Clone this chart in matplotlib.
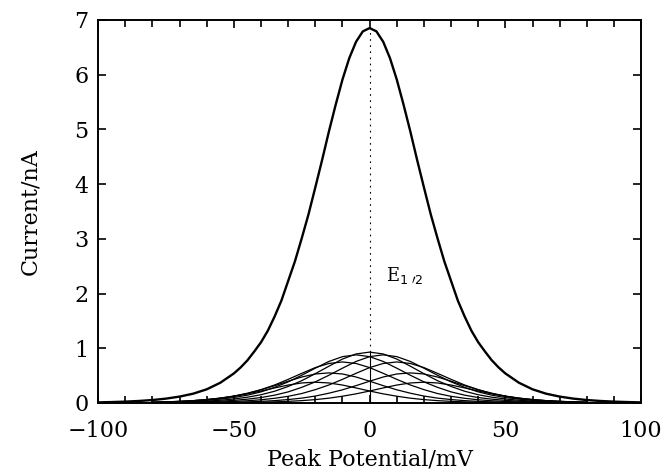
import matplotlib
matplotlib.use("Agg")
import matplotlib.pyplot as plt
from matplotlib.ticker import MultipleLocator

# big peak
big_x = [-100, -95, -90, -85, -80, -75, -70, -65, -60, -55, -50, -47.5, -45, -42.5, -40, -37.5, -35,
         -32.5, -30, -27.5, -25, -22.5, -20, -17.5, -15, -12.5, -10, -7.5, -5, -2.5, 0,
         2.5, 5, 7.5, 10, 12.5, 15, 17.5, 20, 22.5, 25, 27.5, 30, 32.5,
         35, 37.5, 40, 42.5, 45, 47.5, 50, 55, 60, 65, 70, 75, 80, 85, 90, 95, 100]
big_y = [0.011, 0.017, 0.025, 0.037, 0.054, 0.080, 0.117, 0.17, 0.25, 0.37, 0.54, 0.65, 0.78, 0.94, 1.11, 1.32, 1.58,
         1.87, 2.23, 2.59, 3.01, 3.45, 3.94, 4.44, 4.96, 5.45, 5.91, 6.30, 6.60, 6.79, 6.85,
         6.79, 6.60, 6.30, 5.91, 5.45, 4.96, 4.44, 3.94, 3.45, 3.01, 2.59, 2.23, 1.87,
         1.58, 1.32, 1.11, 0.94, 0.78, 0.65, 0.54, 0.37, 0.25, 0.17, 0.117, 0.080, 0.054, 0.037, 0.025, 0.017, 0.011]

# small component curves, sampled every 5 mV from -80 to 80
small_x = list(range(-80, 85, 5))
small_curves = [
    [.014, .021, .030, .043, .062, .088, .124, .167, .219, .275, .328, .366, .38, .366, .328, .275, .219,
     .167, .124, .088, .062, .043, .030, .021, .014, .010, .006, .005, .003, .002, .002, .001, .001],
    [.014, .020, .030, .043, .063, .089, .127, .179, .241, .317, .398, .475, .530, .55, .530, .475, .398,
     .317, .241, .179, .127, .089, .063, .043, .030, .020, .014, .009, .007, .004, .003, .002, .001],
    [.013, .019, .028, .041, .059, .086, .122, .173, .244, .329, .432, .542, .647, .722, .75, .722, .647,
     .542, .432, .329, .244, .173, .122, .086, .059, .041, .028, .019, .013, .009, .006, .004, .003],
    [.011, .015, .022, .033, .048, .070, .100, .143, .203, .286, .386, .507, .636, .759, .847, .88, .847,
     .759, .636, .507, .386, .286, .203, .143, .100, .070, .048, .033, .022, .015, .011, .007, .004],
    [.007, .011, .016, .023, .034, .050, .073, .106, .151, .215, .302, .408, .536, .672, .803, .896, .93,
     .896, .803, .672, .536, .408, .302, .215, .151, .106, .073, .050, .034, .023, .016, .011, .007],
    [.004, .007, .011, .015, .022, .033, .048, .070, .100, .143, .203, .286, .386, .507, .636, .759, .847,
     .88, .847, .759, .636, .507, .386, .286, .203, .143, .100, .070, .048, .033, .022, .015, .011],
    [.003, .004, .006, .009, .013, .019, .028, .041, .059, .086, .122, .173, .244, .329, .432, .542, .647,
     .722, .75, .722, .647, .542, .432, .329, .244, .173, .122, .086, .059, .041, .028, .019, .013],
    [.001, .002, .003, .004, .007, .009, .014, .020, .030, .043, .063, .089, .127, .179, .241, .317, .398,
     .475, .530, .55, .530, .475, .398, .317, .241, .179, .127, .089, .063, .043, .030, .020, .014],
    [.001, .001, .002, .002, .003, .005, .006, .010, .014, .021, .030, .043, .062, .088, .124, .167, .219,
     .275, .328, .366, .38, .366, .328, .275, .219, .167, .124, .088, .062, .043, .030, .021, .014],
]

e_half = 0.0
small_top = 0.93
peak_top = 6.85

plt.rcParams['font.family'] = ['DejaVu Serif']

fig = plt.figure(figsize=(6.63, 4.73), dpi=100)
ax = fig.add_axes([0.148, 0.148, 0.819, 0.810])

for ys in small_curves:
    ax.plot(small_x, ys, color='black', lw=0.9)

ax.plot(big_x, big_y, color='black', lw=1.7, solid_joinstyle='round')

# E1/2 marker
ax.plot([e_half, e_half], [small_top, peak_top], color='black', lw=0.8,
        linestyle=(0, (1.5, 4)))
ax.plot([e_half, e_half], [0, small_top], color='black', lw=0.8)
ax.text(6, 2.33, r'E$_{1\ \prime 2}$', fontsize=13, ha='left', va='center')

ax.set_xlim(-100, 100)
ax.set_ylim(0, 7)
ax.xaxis.set_major_locator(MultipleLocator(50))
ax.xaxis.set_minor_locator(MultipleLocator(10))
ax.yaxis.set_major_locator(MultipleLocator(1))
ax.tick_params(which='both', direction='in', top=True, right=True, labelsize=16, width=1.2)
ax.tick_params(which='major', length=6)
ax.tick_params(axis='x', which='major', pad=12)
ax.tick_params(axis='y', which='major', pad=7)
ax.tick_params(which='minor', length=5)
for s in ax.spines.values():
    s.set_linewidth(1.4)

ax.set_xlabel('Peak Potential/mV', fontsize=16, labelpad=5)
ax.set_ylabel('Current/nA', fontsize=16, labelpad=24)

fig.savefig('out.png', dpi=100)
